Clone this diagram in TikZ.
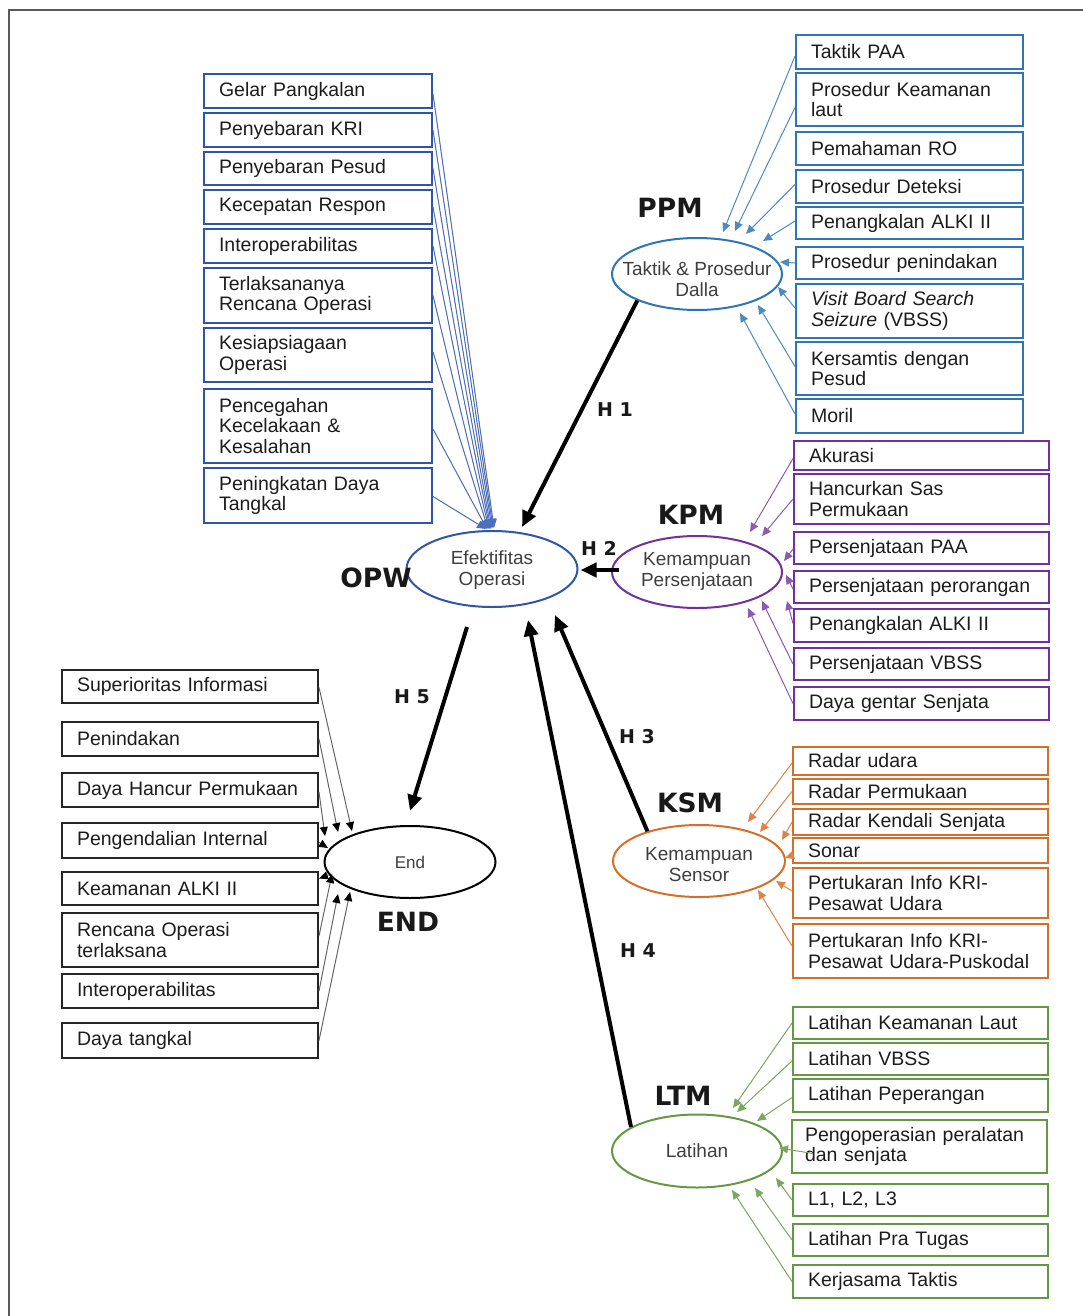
\documentclass[tikz,border=0pt]{standalone}
\usepackage{fontspec}
\setmainfont{Liberation Sans}
\newfontfamily\lblfont{DejaVu Sans}
\usetikzlibrary{shapes.geometric,arrows.meta,calc}
\definecolor{cOPW}{RGB}{47,84,170}
\definecolor{cPPM}{RGB}{46,117,182}
\definecolor{cKPM}{RGB}{112,48,160}
\definecolor{cKSM}{RGB}{214,110,40}
\definecolor{cLTM}{RGB}{100,152,66}
\definecolor{txt}{RGB}{28,28,28}
\newcommand\bxn[6]{\node[bx,#1,minimum height={#5-#4}] (#2) at (#3,#4) {#6};}
\begin{document}
\begin{tikzpicture}[x=1pt,y=-1pt,
  bx/.style={draw, line width=2pt, anchor=north west, inner xsep=15pt, inner ysep=0pt,
    align=left, font=\fontsize{19.5}{20.8}\selectfont, text=txt},
  gOPW/.style={draw=cOPW, text width=198pt},
  gPPM/.style={draw=cPPM, text width=197pt},
  gKPM/.style={draw=cKPM, text width=225pt},
  gKSM/.style={draw=cKSM, text width=225pt},
  gLTM/.style={draw=cLTM, text width=225pt},
  gEND/.style={draw=black!85, text width=226pt},
  ell/.style={ellipse, draw, line width=2pt, inner sep=0pt},
  etext/.style={align=center, font=\fontsize{19}{21}\selectfont, text=txt!85, inner sep=0pt},
  glabel/.style={font=\lblfont\bfseries\fontsize{26.5}{28}\selectfont, text=black!90, inner sep=0pt},
  hlabel/.style={font=\lblfont\bfseries\fontsize{19}{20}\selectfont, text=black!90, inner sep=0pt},
  thin/.style={line width=1pt, -{Triangle[length=9pt,width=8pt]}},
  aOPW/.style={thin, draw=cOPW!85, fill=cOPW},
  aPPM/.style={thin, draw=cPPM!85},
  aKPM/.style={thin, draw=cKPM!80},
  aKSM/.style={thin, draw=cKSM!85},
  aLTM/.style={thin, draw=cLTM!85},
  aEND/.style={line width=1pt, draw=black!60, -{Triangle[length=9pt,width=8pt,color=black]}},
  harrow/.style={line width=4pt, draw=black, -{Triangle[length=16pt,width=14pt]}}
]
\useasboundingbox (0,0) rectangle (1083,1316);
\draw[line width=2pt, black!65] (9,1316) -- (9,10) -- (1083,10);

% ---------- OPW boxes ----------
\bxn{gOPW}{o1}{203}{73}{107}{Gelar Pangkalan}
\bxn{gOPW}{o2}{203}{112}{146}{Penyebaran KRI}
\bxn{gOPW}{o3}{203}{151}{184}{Penyebaran Pesud}
\bxn{gOPW}{o4}{203}{189}{223}{Kecepatan Respon}
\bxn{gOPW}{o5}{203}{228}{262}{Interoperabilitas}
\bxn{gOPW}{o6}{203}{267}{322}{Terlaksananya\\Rencana Operasi}
\bxn{gOPW}{o7}{203}{327}{381}{Kesiapsiagaan\\Operasi}
\bxn{gOPW}{o8}{203}{388}{462}{Pencegahan\\Kecelakaan \&\\Kesalahan}
\bxn{gOPW}{o9}{203}{467}{522}{Peningkatan Daya\\Tangkal}

% ---------- PPM boxes ----------
\bxn{gPPM}{t1}{795}{34}{68}{Taktik PAA}
\bxn{gPPM}{t2}{795}{72}{125}{Prosedur Keamanan\\laut}
\bxn{gPPM}{t3}{795}{131}{164}{Pemahaman RO}
\bxn{gPPM}{t4}{795}{169}{202}{Prosedur Deteksi}
\bxn{gPPM}{t5}{795}{206}{238}{Penangkalan ALKI II}
\bxn{gPPM}{t6}{795}{246}{278}{Prosedur penindakan}
\bxn{gPPM}{t7}{795}{283}{337}{\textit{Visit Board Search}\\\textit{Seizure} (VBSS)}
\bxn{gPPM}{t8}{795}{341}{394}{Kersamtis dengan\\Pesud}
\bxn{gPPM}{t9}{795}{398}{432}{Moril}

% ---------- KPM boxes ----------
\bxn{gKPM}{k1}{793}{440}{469}{Akurasi}
\bxn{gKPM}{k2}{793}{473}{523}{Hancurkan Sas\\Permukaan}
\bxn{gKPM}{k3}{793}{531}{563}{Persenjataan PAA}
\bxn{gKPM}{k4}{793}{570}{602}{Persenjataan perorangan}
\bxn{gKPM}{k5}{793}{608}{641}{Penangkalan ALKI II}
\bxn{gKPM}{k6}{793}{647}{679}{Persenjataan VBSS}
\bxn{gKPM}{k7}{793}{686}{719}{Daya gentar Senjata}

% ---------- KSM boxes ----------
\bxn{gKSM}{s1}{792}{746}{774}{Radar udara}
\bxn{gKSM}{s2}{792}{778}{803}{Radar Permukaan}
\bxn{gKSM}{s3}{792}{808}{834}{Radar Kendali Senjata}
\bxn{gKSM}{s4}{792}{837}{862}{Sonar}
\bxn{gKSM}{s5}{792}{867}{917}{Pertukaran Info KRI-\\Pesawat Udara}
\bxn{gKSM}{s6}{792}{923}{977}{Pertukaran Info KRI-\\Pesawat Udara-Puskodal}

% ---------- LTM boxes ----------
\bxn{gLTM}{l1}{792}{1006}{1038}{Latihan Keamanan Laut}
\bxn{gLTM}{l2}{792}{1042}{1074}{Latihan VBSS}
\bxn{gLTM}{l3}{792}{1078}{1111}{Latihan Peperangan}
\bxn{gLTM,inner xsep=13pt,text width=229pt}{l4}{791}{1119}{1172}{Pengoperasian peralatan\\dan senjata}
\bxn{gLTM}{l5}{792}{1183}{1215}{L1, L2, L3}
\bxn{gLTM}{l6}{792}{1223}{1255}{Latihan Pra Tugas}
\bxn{gLTM}{l7}{792}{1264}{1297}{Kerjasama Taktis}

% ---------- END boxes ----------
\bxn{gEND}{e1}{61}{669}{702}{Superioritas Informasi}
\bxn{gEND}{e2}{61}{721}{755}{Penindakan}
\bxn{gEND}{e3}{61}{772}{806}{Daya Hancur Permukaan}
\bxn{gEND}{e4}{61}{822}{857}{Pengendalian Internal}
\bxn{gEND}{e5}{61}{871}{904}{Keamanan ALKI II}
\bxn{gEND}{e6}{61}{912}{966}{Rencana Operasi\\terlaksana}
\bxn{gEND}{e7}{61}{973}{1007}{Interoperabilitas}
\bxn{gEND}{e8}{61}{1022}{1057}{Daya tangkal}

% ---------- ellipses ----------
\node[ell, draw=cOPW, minimum width=171pt, minimum height=76pt] (opw) at (492,569) {};
\node[ell, draw=cPPM, minimum width=170pt, minimum height=72pt] (ppm) at (697,274) {};
\node[ell, draw=cKPM, minimum width=170pt, minimum height=72pt] (kpm) at (697,572) {};
\node[ell, draw=cKSM, minimum width=172pt, minimum height=72pt] (ksm) at (699,861) {};
\node[ell, draw=cLTM, minimum width=170pt, minimum height=73pt] (ltm) at (697,1151) {};
\node[ell, draw=black, minimum width=171pt, minimum height=72pt] (endn) at (410,862) {};

\node[etext] (opwt) at ([yshift=-1pt]opw.center) {Efektifitas\\Operasi};
\node[etext] (ppmt) at ([yshift=-5pt]ppm.center) {Taktik \& Prosedur\\Dalla};
\node[etext] (kpmt) at ([yshift=1pt]kpm.center) {Kemampuan\\Persenjataan};
\node[etext] (ksmt) at ([yshift=-4pt]ksm.center) {Kemampuan\\Sensor};
\node[etext] (ltmt) at (ltm.center) {Latihan};
\node[etext, font=\fontsize{17}{19}\selectfont] (endt) at (endn.center) {End};

% ---------- group labels ----------
\node[glabel] (lppm) at (670,208) {PPM};
\node[glabel] (lkpm) at (691,515) {KPM};
\node[glabel] (lopw) at (376,578) {OPW};
\node[glabel] (lksm) at (690,803) {KSM};
\node[glabel] (lltm) at (683,1096) {LTM};
\node[glabel] (lend) at (408,922) {END};

% ---------- OPW connectors ----------
\coordinate (oc1) at (494,528);
\coordinate (oc2) at (493,528);
\coordinate (oc3) at (492,528);
\coordinate (oc4) at (491,529);
\coordinate (oc5) at (490,529);
\coordinate (oc6) at (489,529);
\coordinate (oc7) at (488,529);
\coordinate (oc8) at (487,529);
\coordinate (oc9) at (486,529);
\draw[aOPW] ([yshift=-3pt]o1.east) -- (oc1);
\draw[aOPW] (o2.east) -- (oc2);
\draw[aOPW] (o3.east) -- (oc3);
\draw[aOPW] (o4.east) -- (oc4);
\draw[aOPW] (o5.east) -- (oc5);
\draw[aOPW] (o6.east) -- (oc6);
\draw[aOPW] ([yshift=3pt]o7.east) -- (oc7);
\draw[aOPW] ([yshift=-3pt]o8.east) -- (oc8);
\draw[aOPW] ([yshift=-1pt]o9.east) -- (oc9);

% ---------- PPM connectors ----------
\coordinate (pc1) at (723,232);
\coordinate (pc2) at (735,231);
\coordinate (pc4) at (746,234);
\coordinate (pc5) at (763,241);
\coordinate (pc6) at (780,262);
\coordinate (pc7) at (778,287);
\coordinate (pc8) at (758,305);
\coordinate (pc9) at (740,313);
\draw[aPPM] ([yshift=-4pt]t1.west) -- (pc1);
\draw[aPPM] ([yshift=-8pt]t2.west) -- (pc2);
\draw[aPPM] ([yshift=2pt]t4.west) -- (pc4);
\draw[aPPM] ([yshift=2pt]t5.west) -- (pc5);
\draw[aPPM] (t6.west) -- (pc6);
\draw[aPPM] ([yshift=3pt]t7.west) -- (pc7);
\draw[aPPM] ([yshift=2pt]t8.west) -- (pc8);
\draw[aPPM] ([yshift=2pt]t9.west) -- (pc9);

% ---------- KPM connectors ----------
\coordinate (kc1) at (750,532);
\coordinate (kc2) at (762,536);
\coordinate (kc3) at (784,561);
\coordinate (kc4) at (786,575);
\coordinate (kc5) at (787,601);
\coordinate (kc6) at (762,601);
\coordinate (kc7) at (748,608);
\draw[aKPM] ([yshift=-3pt]k1.west) -- (kc1);
\draw[aKPM] (k2.west) -- (kc2);
\draw[aKPM] ([yshift=-1pt]k3.west) -- (kc3);
\draw[aKPM] ([yshift=-2pt]k4.west) -- (kc4);
\draw[aKPM] ([yshift=2pt]k5.west) -- (kc5);
\draw[aKPM] (k6.west) -- (kc6);
\draw[aKPM] (k7.west) -- (kc7);

% ---------- KSM connectors ----------
\coordinate (sc1) at (748,822);
\coordinate (sc2) at (760,832);
\coordinate (sc3) at (782,840);
\coordinate (sc4) at (785,858);
\coordinate (sc5) at (776,881);
\coordinate (sc6) at (758,890);
\draw[aKSM] ([yshift=-2pt]s1.west) -- (sc1);
\draw[aKSM] (s2.west) -- (sc2);
\draw[aKSM] (s3.west) -- (sc3);
\draw[aKSM] ([yshift=-5pt]s4.west) -- (sc4);
\draw[aKSM] ([yshift=2pt]s5.west) -- (sc5);
\draw[aKSM] ([yshift=5pt]s6.west) -- (sc6);

% ---------- LTM connectors ----------
\coordinate (lc1) at (733,1108);
\coordinate (lc2) at (737,1112);
\coordinate (lc3) at (757,1121);
\coordinate (lc4) at (779,1148);
\coordinate (lc5) at (776,1178);
\coordinate (lc6) at (755,1188);
\coordinate (lc7) at (732,1190);
\draw[aLTM] (l1.west) -- (lc1);
\draw[aLTM] ([yshift=-2pt]l2.west) -- (lc2);
\draw[aLTM] ([yshift=-2pt]l3.west) -- (lc3);
\draw[aLTM] ([xshift=22pt,yshift=-7pt]l4.west) -- (lc4);
\draw[aLTM] (l5.west) -- (lc5);
\draw[aLTM] (l6.west) -- (lc6);
\draw[aLTM] (l7.west) -- (lc7);

% ---------- END connectors ----------
\coordinate (ec1) at (352,831);
\coordinate (ec2) at (338,832);
\coordinate (ec3) at (325,836);
\coordinate (ec4) at (328,848);
\coordinate (ec6) at (332,874);
\coordinate (ec7) at (338,894);
\coordinate (ec8) at (350,892);
\draw[aEND] ([yshift=-1pt]e1.east) -- (ec1);
\draw[aEND] (e2.east) -- (ec2);
\draw[aEND] ([yshift=-2pt]e3.east) -- (ec3);
\draw[aEND] ([yshift=-2pt]e4.east) -- (ec4);
\draw[aEND] (endn.189) -- ([yshift=10pt]e5.east);
\draw[aEND] ([yshift=4pt]e6.east) -- (ec6);
\draw[aEND] (e7.east) -- (ec7);
\draw[aEND] (e8.east) -- (ec8);

% ---------- hypothesis arrows ----------
\coordinate (h1e) at (522,527);
\coordinate (h3e) at (555,615);
\coordinate (h4e) at (528,620);
\coordinate (h5s) at (467,627);
\draw[harrow] (ppm.204) -- (h1e);
\draw[harrow] ([xshift=8pt,yshift=2pt]kpm.west) -- ([xshift=2pt,yshift=-1pt]opw.east);
\draw[harrow] (ksm.150) -- (h3e);
\draw[harrow] (ltm.160) -- (h4e);
\draw[harrow] (h5s) -- ([yshift=14pt]endn.north);

\node[hlabel] (lh1) at (615,410) {H 1};
\node[hlabel] (lh2) at (599,548) {H 2};
\node[hlabel] (lh3) at (637,737) {H 3};
\node[hlabel] (lh4) at (638,951) {H 4};
\node[hlabel] (lh5) at (412,697) {H 5};
\end{tikzpicture}
\end{document}
